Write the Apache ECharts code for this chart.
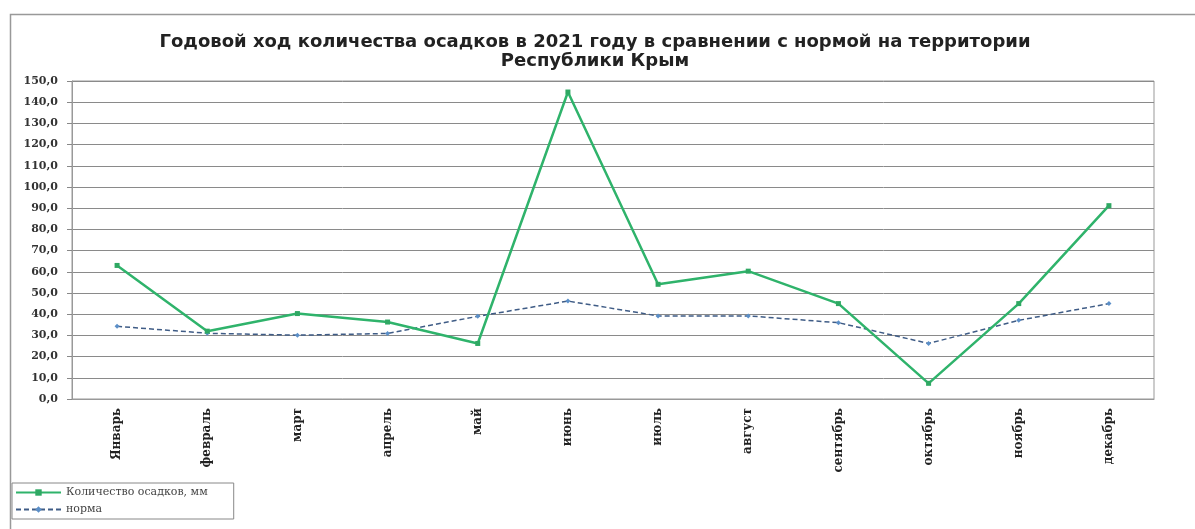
<!DOCTYPE html>
<html><head><meta charset="utf-8">
<script src="https://cdn.jsdelivr.net/npm/echarts@6/dist/echarts.min.js"></script>
<style>html,body{margin:0;padding:0;background:#fff}#c{width:1195px;height:529px}</style>
</head><body><div id="c"></div>
<script>
const months = ['Январь','февраль','март','апрель','май','июнь','июль','август','сентябрь','октябрь','ноябрь','декабрь'];
const precip = [63.0, 32.0, 40.3, 36.3, 26.2, 144.8, 54.1, 60.3, 45.0, 7.4, 45.0, 91.2];
const norm = [34.3, 31.0, 30.1, 30.9, 39.0, 46.2, 39.2, 39.2, 36.0, 26.2, 37.1, 45.0];
const seriesNames = ['Количество осадков, мм', 'норма'];
const titleText = 'Годовой ход количества осадков в 2021 году в сравнении с нормой на территории\nРеспублики Крым';

const chart = echarts.init(document.getElementById('c'));
chart.setOption({
  animation: false,
  backgroundColor: '#fff',
  graphic: [{type:'rect', shape:{x:10.5,y:14.5,width:1200,height:530}, style:{fill:'none',stroke:'#999',lineWidth:1.5}, z:-1}],
  title: {text: titleText, left: 590, textAlign: 'center', top: 28,
    textStyle: {fontFamily:'DejaVu Sans', fontWeight:'bold', fontSize:18, color:'#222', lineHeight:19}},
  legend: {orient:'vertical', left:12, top:483, itemWidth:45, itemHeight:8, itemGap:6,
    borderColor:'#888', borderWidth:1, padding:[4,26,4,3],
    textStyle:{fontFamily:'DejaVu Serif', fontSize:11, color:'#444'},
    data: seriesNames},
  grid: {left:72, right:41, top:81, bottom:130, show:true, borderColor:'#999', borderWidth:1},
  xAxis: {type:'category', data: months, boundaryGap:true,
    axisLine:{lineStyle:{color:'#999'}}, axisTick:{show:false},
    axisLabel:{rotate:90, margin:9, interval:0, fontFamily:'DejaVu Serif', fontWeight:'bold', fontSize:12, color:'#222'}},
  yAxis: {type:'value', min:0, max:150, interval:10,
    axisLine:{show:true, lineStyle:{color:'#999'}}, axisTick:{show:true, length:5, lineStyle:{color:'#888'}},
    splitLine:{lineStyle:{color:'#8a8a8a', width:1}},
    axisLabel:{margin:14, fontFamily:'DejaVu Serif', fontWeight:'bold', fontSize:11, color:'#333',
      formatter: v => v.toFixed(1).replace('.', ',')}},
  series: [
    {name: seriesNames[0], type:'line', data: precip, symbol:'rect', symbolSize:5,
      lineStyle:{color:'#2fb36b', width:2.5}, itemStyle:{color:'#2fa863'}, z:3},
    {name: seriesNames[1], type:'line', data: norm, symbol:'diamond', symbolSize:5,
      lineStyle:{color:'#3f5c86', width:1.5, type:[5,3]}, itemStyle:{color:'#5b8fc8'}, z:2}
  ]
});
</script></body></html>
